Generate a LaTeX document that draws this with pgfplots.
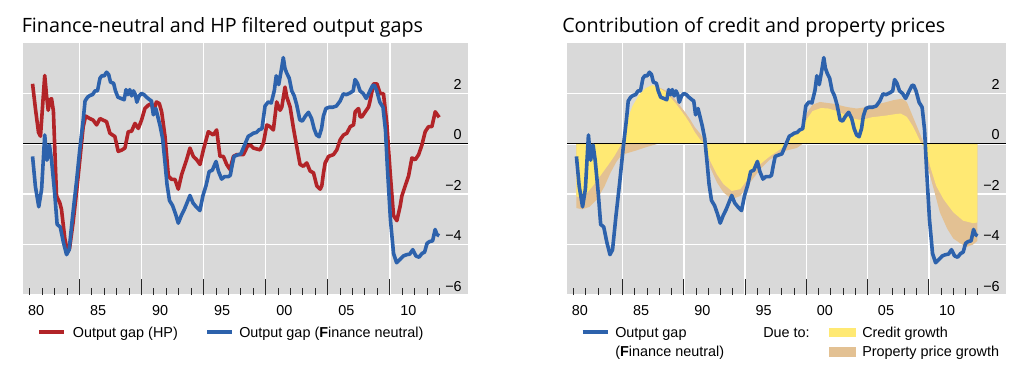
\documentclass[border=0pt]{standalone}
\usepackage{fontspec}
\setmainfont{Liberation Sans}
\newfontfamily\titlefont{Open Sans}
\usepackage{pgfplots}
\pgfplotsset{compat=1.18}
\usepackage{pgfplotstable}

\definecolor{bg}{RGB}{217,217,217}
\definecolor{fnblue}{RGB}{45,98,172}
\definecolor{hpred}{RGB}{178,36,40}
\definecolor{credy}{RGB}{255,233,115}
\definecolor{proptan}{RGB}{227,193,147}
\definecolor{tickc}{RGB}{40,40,40}

\pgfplotstableread{
x y
1980.22 -0.5
1980.45 -1.7
1980.72 -2.5
1980.95 -1.8
1981.2 0.35
1981.38 -0.65
1981.58 -0.05
1981.75 -0.65
1982.0 -1.95
1982.2 -3.2
1982.45 -3.3
1982.7 -3.9
1982.96 -4.4
1983.17 -4.2
1983.45 -2.85
1983.76 -1.5
1984.03 -0.2
1984.3 0.95
1984.45 1.7
1984.65 1.85
1984.85 1.92
1985.05 1.95
1985.25 2.1
1985.45 2.1
1985.65 2.6
1985.8 2.7
1986.0 2.7
1986.18 2.84
1986.35 2.75
1986.5 2.45
1986.75 2.4
1986.9 2.1
1987.1 1.85
1987.35 1.8
1987.6 1.75
1987.75 2.15
1987.9 1.95
1988.05 2.15
1988.2 1.9
1988.35 2.1
1988.5 1.95
1988.62 1.65
1988.8 1.9
1989.0 2.0
1989.2 1.95
1989.4 1.85
1989.65 1.75
1989.8 1.7
1989.95 1.15
1990.15 1.4
1990.3 1.1
1990.5 0.7
1990.7 0.2
1990.9 -0.8
1991.05 -1.6
1991.25 -2.25
1991.5 -2.45
1991.75 -2.8
1991.96 -3.15
1992.2 -2.85
1992.45 -2.6
1992.7 -2.3
1992.9 -2.05
1993.15 -2.35
1993.4 -2.5
1993.7 -2.65
1993.95 -2.05
1994.2 -1.65
1994.45 -1.1
1994.7 -1.05
1995.0 -0.7
1995.2 -1.1
1995.45 -1.4
1995.7 -1.3
1996.0 -1.3
1996.15 -1.25
1996.3 -0.85
1996.45 -0.5
1996.7 -0.45
1997.0 -0.4
1997.3 -0.05
1997.6 0.3
1997.8 0.35
1998.0 0.42
1998.25 0.45
1998.45 0.55
1998.7 0.6
1998.95 1.5
1999.2 1.66
1999.45 1.62
1999.7 2.12
1999.85 2.7
2000.05 2.35
2000.25 2.9
2000.42 3.42
2000.55 3.0
2000.7 2.8
2000.9 2.6
2001.1 2.1
2001.3 1.9
2001.5 1.55
2001.75 0.95
2001.95 0.9
2002.2 1.1
2002.45 1.25
2002.7 1.0
2002.9 0.6
2003.1 0.35
2003.3 0.28
2003.5 0.6
2003.65 1.1
2003.85 1.4
2004.1 1.45
2004.4 1.45
2004.7 1.5
2005.0 1.7
2005.25 1.98
2005.5 1.95
2005.8 2.02
2006.05 2.1
2006.2 2.55
2006.4 2.4
2006.6 2.1
2006.85 2.0
2007.1 1.8
2007.35 2.05
2007.6 2.3
2007.75 2.33
2007.95 2.1
2008.2 1.65
2008.45 1.45
2008.65 0.55
2008.8 -0.9
2009.05 -3.0
2009.3 -4.35
2009.55 -4.72
2009.8 -4.6
2010.1 -4.45
2010.35 -4.4
2010.6 -4.38
2010.85 -4.2
2011.1 -4.45
2011.35 -4.5
2011.6 -4.35
2011.8 -4.3
2012.0 -3.95
2012.2 -3.88
2012.45 -3.85
2012.65 -3.4
2012.8 -3.6
2012.98 -3.65
}\fngap

\pgfplotstableread{
x y
1980.22 2.38
1980.45 1.4
1980.7 0.45
1980.86 0.3
1981.0 1.3
1981.2 2.71
1981.35 1.9
1981.48 1.33
1981.62 1.75
1981.75 1.79
1981.9 1.3
1982.15 -2.07
1982.42 -2.35
1982.55 -2.6
1982.82 -3.76
1983.04 -4.3
1983.2 -4.15
1983.49 -3.1
1983.76 -1.93
1984.03 -0.63
1984.3 0.68
1984.5 1.1
1984.84 1.0
1985.1 0.94
1985.38 0.75
1985.65 1.0
1985.9 0.94
1986.18 0.88
1986.45 0.42
1986.85 0.29
1987.12 -0.3
1987.4 -0.25
1987.66 -0.17
1987.93 0.48
1988.2 0.5
1988.47 0.81
1988.74 0.61
1989.0 0.94
1989.27 1.4
1989.54 1.53
1989.81 1.6
1989.95 1.27
1990.2 1.66
1990.43 1.6
1990.62 1.27
1990.89 0.29
1991.16 -1.28
1991.42 -1.41
1991.69 -1.41
1991.96 -1.8
1992.23 -1.22
1992.63 -0.63
1992.9 -0.17
1993.17 -0.5
1993.44 -0.63
1993.71 -0.82
1993.98 -0.24
1994.38 0.48
1994.78 0.35
1995.05 0.55
1995.32 -0.5
1995.59 -0.5
1995.86 -0.82
1996.13 -1.02
1996.4 -0.5
1996.67 -0.43
1997.2 -0.43
1997.55 -0.08
1997.8 -0.06
1998.01 -0.17
1998.55 -0.24
1998.82 0.03
1999.09 0.75
1999.35 0.68
1999.62 0.55
1999.89 1.66
2000.16 1.33
2000.3 1.46
2000.56 2.25
2000.7 1.86
2000.97 1.46
2001.24 0.61
2001.5 -0.1
2001.77 -0.82
2002.04 -0.89
2002.31 -0.76
2002.58 -1.08
2002.85 -1.15
2003.12 -1.67
2003.39 -1.8
2003.52 -1.67
2003.66 -1.15
2003.79 -0.76
2004.06 -0.5
2004.46 -0.43
2004.73 -0.24
2005.0 0.16
2005.27 0.35
2005.54 0.42
2005.81 0.68
2006.08 0.75
2006.21 1.27
2006.48 1.4
2006.61 1.07
2006.75 1.07
2007.02 1.27
2007.29 1.46
2007.42 1.73
2007.69 2.38
2007.96 2.38
2008.23 1.99
2008.49 1.99
2008.76 0.81
2009.03 -1.15
2009.3 -2.85
2009.57 -3.05
2009.84 -2.46
2009.97 -2.07
2010.24 -1.67
2010.51 -1.28
2010.78 -0.56
2011.05 -0.63
2011.32 -0.43
2011.59 -0.04
2011.85 0.48
2012.12 0.68
2012.39 0.68
2012.66 1.27
2012.98 1.05
}\hpgap

% credit contribution (yellow)
\pgfplotstableread{
x y
1980.22 0
1980.22 -2.1
1980.6 -2.1
1981.0 -2.0
1981.6 -1.65
1982.2 -1.25
1982.8 -0.85
1983.3 -0.5
1983.6 -0.25
1983.9 0
1984.1 0.4
1984.35 0.85
1984.6 1.25
1984.8 1.5
1985.3 1.92
1985.85 2.2
1986.4 2.33
1986.9 2.25
1987.5 2.05
1988.3 1.62
1989.1 1.1
1989.5 0.8
1989.9 0.45
1990.3 0.18
1990.65 0
1991.15 -0.69
1991.7 -1.22
1992.23 -1.6
1992.9 -1.87
1993.6 -1.8
1994.4 -1.28
1995.2 -0.82
1996.0 -0.5
1996.85 -0.22
1997.4 0
1997.7 0.29
1998.5 0.55
1999.0 0.95
1999.5 1.3
2000.2 1.42
2000.8 1.4
2001.5 1.3
2002.3 1.12
2003.0 0.98
2003.5 0.94
2004.3 1.05
2005.5 1.12
2006.3 1.18
2006.7 1.2
2007.2 1.07
2007.7 0.69
2008.1 0.29
2008.4 0
2008.7 -0.15
2009.1 -0.89
2009.6 -1.67
2010.2 -2.2
2011.0 -2.72
2011.8 -3.05
2012.6 -3.15
2012.97 -3.12
2012.97 0
}\credit

% outer edge of credit + property contribution (tan)
\pgfplotstableread{
x y
1980.22 0
1980.22 -2.55
1980.7 -2.6
1981.3 -2.5
1981.9 -2.2
1982.5 -1.7
1983.0 -1.15
1983.5 -0.7
1983.9 -0.45
1984.3 -0.38
1985.0 -0.28
1985.8 -0.15
1986.5 -0.05
1986.9 0
1986.9 2.25
1987.5 2.12
1988.3 1.75
1989.1 1.25
1989.5 0.97
1989.9 0.65
1990.3 0.42
1990.85 0
1991.15 -0.95
1991.7 -1.54
1992.23 -1.93
1992.9 -2.2
1993.6 -2.07
1994.4 -1.54
1995.2 -1.02
1996.0 -0.63
1996.85 -0.37
1997.4 -0.26
1998.2 -0.17
1998.7 0
1998.7 0.7
1999.0 1.2
1999.5 1.55
2000.1 1.66
2001.2 1.59
2002.3 1.46
2003.1 1.4
2004.0 1.46
2005.0 1.59
2006.1 1.73
2006.8 1.79
2007.2 1.66
2007.7 1.07
2008.3 0.37
2008.6 0
2008.6 -0.1
2008.8 -0.76
2009.4 -1.8
2009.9 -2.72
2010.5 -3.37
2011.0 -3.76
2011.6 -3.96
2012.1 -4.09
2012.6 -4.0
2012.97 -3.85
2012.97 0
}\property

\pgfplotsset{
  bispanel/.style={
    scale only axis,
    height=189pt,
    xmin=1979.45, xmax=2015.3,
    ymin=-6, ymax=4,
    axis background/.style={fill=bg},
    axis line style={draw=none},
    xtick pos=left,
    xtick={1980.5,1985.5,1990.5,1995.5,2000.5,2005.5,2010.5},
    xticklabels={80,85,90,95,00,05,10},
    minor xtick={1980,1981,...,2013},
    extra x ticks={1984,1989,1994,1999,2004,2009},
    extra x tick labels={},
    extra x tick style={grid=major, major tick length=12pt},
    major tick length=0pt,
    minor tick length=5.25pt,
    xtick style={tickc, line width=0.75pt},
    ytick={-6,-4,-2,0,2},
    yticklabels={−6,−4,−2,0,2},
    ytick style={draw=none},
    ymajorgrids,
    major grid style={white, line width=1.1pt},
    yticklabel pos=right,
    tick label style={font=\fontsize{10.8}{13}\selectfont, text=black},
    xticklabel style={anchor=base, yshift=-15pt},
    yticklabel style={anchor=base east, inner sep=0pt, xshift=-4.5pt, yshift=3pt},
    clip=true,
  }
}

\begin{document}
\begin{tikzpicture}[x=0.75pt,y=0.75pt]
\path[use as bounding box] (0pt,0pt) rectangle (768pt,281.25pt);

% ---------- left panel ----------
\begin{axis}[bispanel, width=333.75pt, at={(17.25pt,60pt)}, anchor=south west]
\addplot[black, line width=0.9pt, forget plot] coordinates {(1979.45,0) (2015.3,0)};
\addplot[hpred, line width=2.7pt, line join=round] table {\hpgap};
\addplot[fnblue, line width=2.7pt, line join=round] table {\fngap};
\end{axis}

% ---------- right panel ----------
\begin{axis}[bispanel, width=329.25pt, at={(425.25pt,60pt)}, anchor=south west]
\addplot[draw=none, fill=proptan] table {\property} \closedcycle;
\addplot[draw=none, fill=credy] table {\credit} \closedcycle;
\addplot[black, line width=0.9pt, forget plot] coordinates {(1979.45,0) (2015.3,0)};
\addplot[fnblue, line width=2.7pt, line join=round] table {\fngap};
\end{axis}

% titles
\node[anchor=base west, inner sep=0pt, font=\titlefont\fontsize{14.8}{18}\selectfont] at (21.5,342) {Finance-neutral and HP filtered output gaps};
\node[anchor=base west, inner sep=0pt, font=\titlefont\fontsize{14.8}{18}\selectfont] at (562,342) {Contribution of credit and property prices};

% legends
\begin{scope}[every node/.style={anchor=base west, inner sep=0pt, font=\fontsize{10.8}{13}\selectfont}]
\draw[hpred, line width=2.7pt] (39,43) -- (64,43);
\node at (72.7,38) {Output gap (HP)};
\draw[fnblue, line width=2.7pt] (207,43) -- (232,43);
\node at (239,38) {Output gap (\textbf{F}inance neutral)};
\draw[fnblue, line width=2.7pt] (582.7,43) -- (607.7,43);
\node at (615,38) {Output gap};
\node at (615,19) {(\textbf{F}inance neutral)};
\node at (763,38) {Due to:};
\fill[credy] (829,37.7) rectangle (855.7,47.3);
\fill[proptan] (829,18.3) rectangle (855.7,28.3);
\node at (862,38) {Credit growth};
\node at (862,19) {Property price growth};
\end{scope}
\end{tikzpicture}
\end{document}
